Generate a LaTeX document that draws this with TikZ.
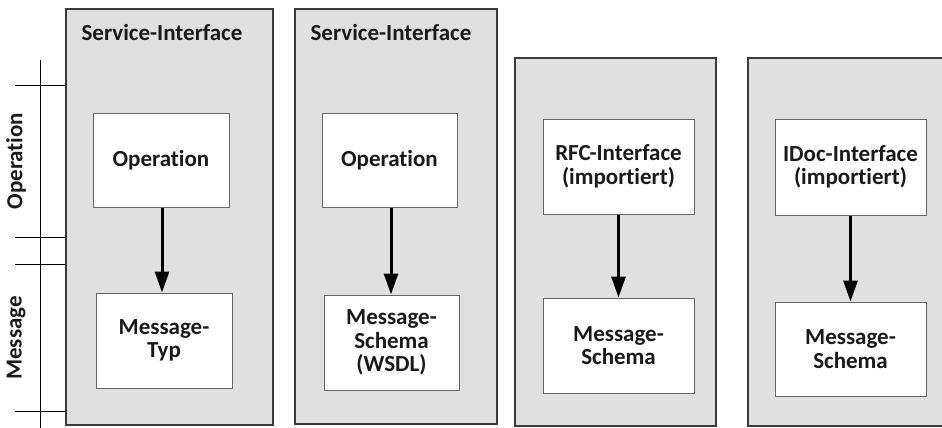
\documentclass[tikz,border=0pt]{standalone}
\usepackage{fontspec}
\setmainfont{Carlito}[Ligatures=NoCommon]
\usetikzlibrary{arrows.meta}
\definecolor{panelfill}{HTML}{E0E0E0}
\definecolor{panelline}{HTML}{3A3A3A}
\definecolor{boxline}{HTML}{666666}
\definecolor{inktext}{HTML}{1A1A1A}
\tikzset{
  labelfont/.style={font=\fontsize{23}{23.5}\selectfont\bfseries, text=inktext},
  panel/.style={draw=panelline, fill=panelfill, line width=1.3pt},
  entity/.style={draw=boxline, fill=white, line width=1pt, align=center,
    inner sep=0pt, labelfont},
  title/.style={labelfont, inner sep=0pt},
  axislabel/.style={labelfont, inner sep=0pt, rotate=90},
  link/.style={line width=3pt, -{Triangle[length=21pt, width=14pt]}},
  axis/.style={line width=1pt, black}
}
\begin{document}
\begin{tikzpicture}[x=1pt, y=-1pt]
  \clip (0,0) rectangle (942,428);
  \fill[white] (0,0) rectangle (942,428);

  % grey container panels
  \draw[panel] (66,9) rectangle (273,425);
  \draw[panel] (295,9) rectangle (497,424);
  \draw[panel] (515,58) rectangle (716,426);
  \draw[panel] (748,58) rectangle (960,426);

  % panel titles
  \node[title] (t1) at (162,33) {Service-Interface};
  \node[title] (t2) at (391,33) {Service-Interface};

  % left scale
  \coordinate (ax0) at (40.7,60);
  \coordinate (ax1) at (40.7,428);
  \draw[axis] (ax0) -- (ax1);
  \foreach \yy in {85,237,264,411}{
    \draw[axis] (15,\yy) -- (66,\yy);
  }
  \node[axislabel] (lop) at (16,161) {Operation};
  \node[axislabel] (lmsg) at (16,338) {Message};

  % column 1
  \node[entity, minimum width=136pt, minimum height=94pt] (op1) at (161,160) {Operation};
  \node[entity, minimum width=136pt, minimum height=95pt] (msg1) at (164,340.5) {Message-\\Typ};
  % column 2
  \node[entity, minimum width=135pt, minimum height=94pt] (op2) at (389.5,160) {Operation};
  \node[entity, minimum width=135pt, minimum height=95pt] (msg2) at (391.5,342.5) {Message-\\Schema\\(WSDL)};
  % column 3
  \node[entity, minimum width=151pt, minimum height=95pt] (rfc) at (618.5,166.5) {RFC-Interface\\(importiert)};
  \node[entity, minimum width=151pt, minimum height=95pt] (msg3) at (618.5,345.5) {Message-\\Schema};
  % column 4
  \node[entity, minimum width=151pt, minimum height=96pt] (idoc) at (850.5,167) {IDoc-Interface\\(importiert)};
  \node[entity, minimum width=151pt, minimum height=94pt] (msg4) at (850.5,349) {Message-\\Schema};

  % references
  \draw[link] ([xshift=1pt]op1.south) -- ([xshift=1pt]op1.south |- msg1.north);
  \draw[link] ([xshift=1.5pt]op2.south) -- ([xshift=1.5pt]op2.south |- msg2.north);
  \draw[link] (rfc.south) -- (msg3.north);
  \draw[link] (idoc.south) -- (msg4.north);
\end{tikzpicture}
\end{document}
